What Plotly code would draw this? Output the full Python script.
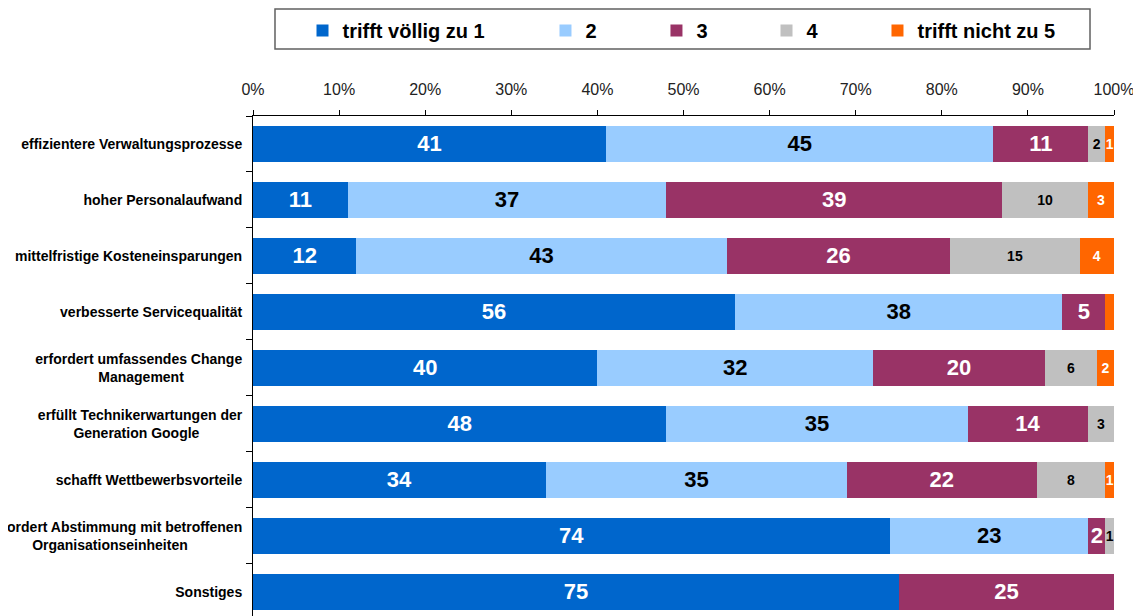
import plotly.graph_objects as go

categories = [
    "effizientere Verwaltungsprozesse",
    "hoher Personalaufwand",
    "mittelfristige Kosteneinsparungen",
    "verbesserte Servicequalität",
    "erfordert umfassendes Change<br>Management" + "\u00a0" * 15,
    "erfüllt Technikerwartungen der<br>Generation Google" + "\u00a0" * 11,
    "schafft Wettbewerbsvorteile",
    "erfordert Abstimmung mit betroffenen<br>Organisationseinheiten" + "\u00a0" * 14,
    "Sonstiges",
]
series_names = ["trifft völlig zu 1", "2", "3", "4", "trifft nicht zu 5"]
v1 = [41, 11, 12, 56, 40, 48, 34, 74, 75]
v2 = [45, 37, 43, 38, 32, 35, 35, 23, 0]
v3 = [11, 39, 26, 5, 20, 14, 22, 2, 25]
v4 = [2, 10, 15, 0, 6, 3, 8, 1, 0]
v5 = [1, 3, 4, 1, 2, 0, 1, 0, 0]
labels5 = ["1", "3", "4", "", "2", "", "1", "", ""]
tick_vals = [0, 10, 20, 30, 40, 50, 60, 70, 80, 90, 100]
tick_text = [f"{v}%" for v in tick_vals]

colors = ["#0066CC", "#99CCFF", "#993366", "#C0C0C0", "#FF6600"]
text_colors = ["white", "black", "white", "black", "white"]
text_sizes = [22, 22, 22, 14, 14]
values = [v1, v2, v3, v4, v5]
legend_ids = ["legend", "legend2", "legend3", "legend4", "legend5"]
legend_x = [0.0575, 0.3397, 0.4686, 0.5964, 0.7253]

fig = go.Figure()
for i, vals in enumerate(values):
    if i == 4:
        txt = labels5
    else:
        txt = [str(v) if v > 0 else "" for v in vals]
    fig.add_trace(go.Bar(
        y=categories, x=vals, orientation="h",
        name=series_names[i], legend=legend_ids[i],
        marker=dict(color=colors[i], line=dict(width=0)),
        text=txt, texttemplate="%{text}", textposition="inside",
        insidetextanchor="middle", constraintext="none",
        textfont=dict(family="Arial, Liberation Sans", size=text_sizes[i],
                      color=text_colors[i], weight="bold"),
        hoverinfo="skip",
    ))

legend_common = dict(
    orientation="h", xanchor="left", yanchor="middle", y=1.171,
    bgcolor="rgba(0,0,0,0)", borderwidth=0,
    font=dict(size=20, weight="bold", color="black"),
)
layout_legends = {}
for lid, lx in zip(legend_ids, legend_x):
    layout_legends[lid] = dict(legend_common, x=lx)

fig.update_layout(
    width=1133, height=608,
    barmode="stack", bargap=0.36,
    plot_bgcolor="white", paper_bgcolor="white",
    margin=dict(l=245, r=27, t=108, b=0, autoexpand=False),
    font=dict(family="Arial, Liberation Sans", color="black"),
    showlegend=True,
    xaxis=dict(
        side="top", range=[0, 100], tickvals=tick_vals, ticktext=tick_text,
        showgrid=False, zeroline=False, showline=True, linecolor="black",
        linewidth=1, ticks="outside", ticklen=5, tickcolor="black",
        ticklabelstandoff=9, automargin=False,
        tickfont=dict(size=16, color="#222222"),
    ),
    yaxis=dict(
        type="category", range=[8.43, -0.5], showgrid=False,
        showline=True, linecolor="black", linewidth=1,
        ticks="outside", ticklen=6, tickcolor="black", tickson="boundaries",
        ticklabelstandoff=7, automargin=False,
        tickfont=dict(size=14, weight="bold", color="black"),
    ),
    shapes=[dict(
        type="rect", xref="paper", yref="paper",
        x0=0.02555, x1=0.97213, y0=1.134, y1=1.214,
        line=dict(color="#606060", width=1.5), fillcolor="rgba(0,0,0,0)",
    )],
    **layout_legends,
)

fig.write_html("out.html")
